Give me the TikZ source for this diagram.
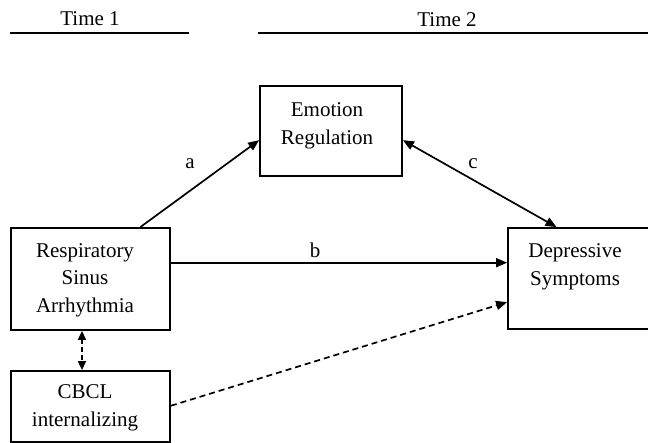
\documentclass[tikz,border=0pt]{standalone}
\usepackage{fontspec}
\setmainfont{Liberation Serif}
\usetikzlibrary{arrows.meta,calc}
\begin{document}
\begin{tikzpicture}[x=1pt,y=-1pt,
 box/.style={draw, line width=1.8pt, rectangle, inner sep=0pt},
 txt/.style={align=center, font=\fontsize{21}{27.5}\selectfont, inner sep=0pt},
 conn/.style={line width=1.7pt, -{Triangle[length=11pt,width=9pt]}},
 both/.style={line width=1.7pt, {Triangle[length=11pt,width=9pt]}-{Triangle[length=11pt,width=9pt]}},
 smallboth/.style={line width=1.7pt, {Triangle[length=9pt,width=8pt]}-{Triangle[length=9pt,width=8pt]}},
 dsh/.style={dash pattern=on 6pt off 4pt},
 rulel/.style={line width=1.8pt}]
\useasboundingbox (0,0) rectangle (648,443);
\clip (0,0) rectangle (648,443);

% time headers
\node[txt, anchor=base] (t1) at (90,26) {Time 1};
\node[txt, anchor=base] (t2) at (447,26.5) {Time 2};
\coordinate (l1a) at (10,33);
\coordinate (l1b) at (189,33);
\coordinate (l2a) at (258,33);
\coordinate (l2b) at (650,33);
\draw[rulel] (l1a) -- (l1b);
\draw[rulel] (l2a) -- (l2b);

% boxes
\node[box, minimum width=159pt, minimum height=102pt] (rsa) at (90.5,279) {};
\node[box, minimum width=159pt, minimum height=71pt] (cbcl) at (90.5,406.5) {};
\node[box, minimum width=142pt, minimum height=90pt] (er) at (331,131) {};
\node[box, minimum width=148pt, minimum height=101pt] (ds) at (582,278.5) {};

% box texts
\node[txt] (rsat) at (85,280) {Respiratory\\Sinus\\Arrhythmia};
\node[txt] (cbclt) at (85,408) {CBCL\\internalizing};
\node[txt] (ert) at (327,126) {Emotion\\Regulation};
\node[txt] (dst) at (575,267) {Depressive\\Symptoms};

% labels
\node[txt, anchor=base] (la) at (190,169) {a};
\node[txt, anchor=base] (lb) at (315,258) {b};
\node[txt, anchor=base] (lc) at (473,169) {c};

% connectors
\coordinate (as) at ($(rsa.north west)!0.81!(rsa.north east)$);
\coordinate (ae) at ($(er.north west)!0.6!(er.south west)$);
\draw[conn] (as) -- (ae);

\coordinate (cs) at ($(er.north east)!0.6!(er.south east)$);
\coordinate (ce) at ($(ds.north west)!0.33!(ds.north east)$);
\draw[both] (cs) -- (ce);

\coordinate (bs) at ($(rsa.north east)!0.343!(rsa.south east)$);
\draw[conn] (bs) -- (bs -| ds.west);

\coordinate (ds1) at ($(cbcl.north east)!0.49!(cbcl.south east)$);
\coordinate (ds2) at ($(ds.north west)!0.73!(ds.south west)$);
\draw[conn, dsh] (ds1) -- (ds2);

\coordinate (vs) at ($(rsa.south west)!0.447!(rsa.south east)$);
\draw[smallboth, dash pattern=on 5pt off 3pt] (vs) -- (vs |- cbcl.north);
\end{tikzpicture}
\end{document}
